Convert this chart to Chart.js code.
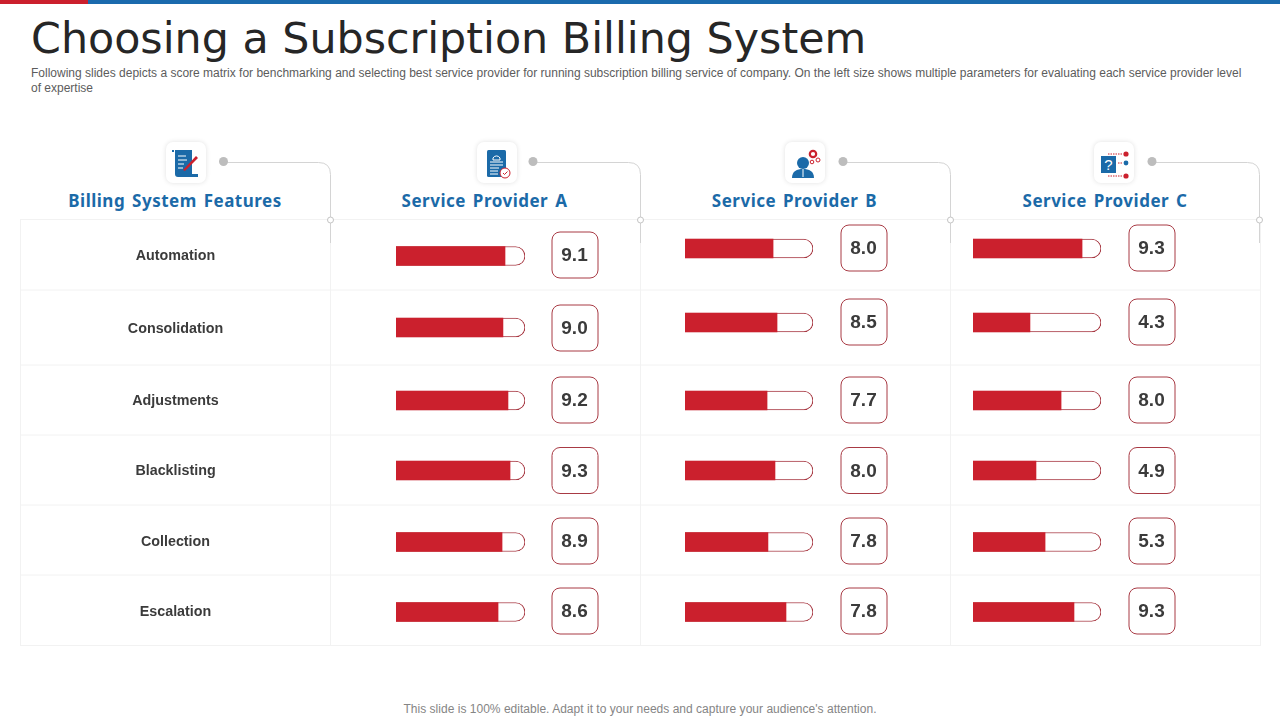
<!DOCTYPE html>
<html><head><meta charset="utf-8">
<script src="https://cdn.jsdelivr.net/npm/chart.js@4/dist/chart.umd.js"></script>
<style>
html,body{margin:0;padding:0;background:#fff;width:1280px;height:720px;overflow:hidden;font-family:"Liberation Sans",Arial,sans-serif}
.abs{position:absolute;white-space:nowrap}
canvas{position:absolute;left:0;top:0;pointer-events:none}
#title{left:31px;top:13px;font:42.8px "DejaVu Sans",sans-serif;color:#262626}
#sub{left:31px;top:66px;width:1215px;white-space:normal;font-size:12px;line-height:15px;color:#5c5c5c}
#foot{left:0;width:1280px;top:702px;text-align:center;font-size:12px;color:#858585;letter-spacing:.02px}
.head{top:189px;width:310px;text-align:center;font:bold 17px "Noto Sans",sans-serif;color:#1b6aa8;letter-spacing:.5px;word-spacing:2px}
.card{width:40px;height:41px;top:142px;background:#fff;border-radius:7px;box-shadow:0 0 5px rgba(0,0,0,.12)}
</style></head><body>
<svg id="frame" class="abs" style="left:0;top:0" width="1280" height="720" xmlns="http://www.w3.org/2000/svg"></svg>
<div id="title" class="abs">Choosing a Subscription Billing System</div>
<div id="sub" class="abs">Following slides depicts a score matrix for benchmarking and selecting best service provider for running subscription billing service of company. On the left size shows multiple parameters for evaluating each service provider level of expertise</div>
<div id="foot" class="abs">This slide is 100% editable. Adapt it to your needs and capture your audience's attention.</div>
<div id="heads"></div>
<canvas id="chartA" width="1280" height="720"></canvas>
<canvas id="chartB" width="1280" height="720"></canvas>
<canvas id="chartC" width="1280" height="720"></canvas>
<script>
// ---- data ----
const features = ["Automation","Consolidation","Adjustments","Blacklisting","Collection","Escalation"];
const columnTitles = ["Billing System Features","Service Provider A","Service Provider B","Service Provider C"];
const scoresA = ["9.1","9.0","9.2","9.3","8.9","8.6"];
const scoresB = ["8.0","8.5","7.7","8.0","7.8","7.8"];
const scoresC = ["9.3","4.3","8.0","4.9","5.3","9.3"];
// bar fill lengths as drawn in the picture, on a 0-10 track
const fillA = [8.45,8.29,8.68,8.84,8.22,7.91];
const fillB = [6.88,7.19,6.41,7.03,6.48,7.89];
const fillC = [8.52,4.45,6.88,4.92,5.63,7.89];
const trackFull = [10,10,10,10,10,10];

// ---- layout ----
const W=1280,H=720,RED="#cb202d",EDGE="#a83a44",INK="#3b3b3b";
const rowLines=[219.5,290,365,435,505,575,645.5], colLines=[20.5,330.5,640.5,950.5,1260.5];
const centersA=[256,327.5,400.5,470.5,542,612], centersBC=[248.5,322.5,400.5,470.5,542,612];
const boxNudgeA=[-1,0.5,-0.5,0,-1,-1], boxNudgeBC=[-0.5,-0.5,-0.5,0,-1,-1];
const cardX=[166,477,785,1094], dotX=[223.5,533,843,1152], cornerX=[330.5,640.5,950.5,1259.5], headC=[175,484.5,794.5,1105];

// ---- static frame ----
let s='<rect x="0" y="0" width="1280" height="4" fill="#1a6aad"/><rect x="0" y="0" width="88" height="4" fill="#cb202d"/>';
rowLines.forEach(y=>s+=`<line x1="20" x2="1261" y1="${y}" y2="${y}" stroke="#f2f2f2"/>`);
colLines.forEach(x=>s+=`<line x1="${x}" x2="${x}" y1="219" y2="646" stroke="#f2f2f2"/>`);
cornerX.forEach((x,i)=>{
  s+=`<path d="M${dotX[i]} 162.5H${x-12}Q${x} 162.5 ${x} 174.5V243" fill="none" stroke="#d4d4d4"/>`;
  s+=`<circle cx="${dotX[i]}" cy="161.5" r="4.5" fill="#bdbdbd"/>`;
  s+=`<circle cx="${x}" cy="220" r="3" fill="#fff" stroke="#c4c4c4"/>`;
});
document.getElementById('frame').innerHTML=s;

const B="#1b6aa8",R="#cb202d";
const icons=[
 `<path d="M9 8h17v24h6v3H12a3 3 0 0 1-3-3z" fill="${B}"/><path d="M12 14h8M12 18h9M12 22h6M12 26h5" stroke="#fff" stroke-width="1"/><path d="M17 28l13-14 2 2-13 13z" fill="${R}"/><rect x="6" y="8" width="2" height="2" fill="${B}"/>`,
 `<rect x="10" y="8" width="19" height="27" rx="1.5" fill="${B}"/><path d="M16 16a4 4 0 0 1 7 0v2h-7z" fill="none" stroke="#fff"/><path d="M13 20h13M13 23h13M13 26h9M13 29h8M13 32h8" stroke="#fff"/><circle cx="28" cy="31" r="5" fill="#fff" stroke="${R}"/><path d="M26 31l1.5 1.5 3-3" stroke="${R}" fill="none"/>`,
 `<circle cx="18" cy="21" r="6" fill="${B}"/><path d="M7 36c0-7 5-9 11-9s11 2 11 9z" fill="${B}"/><path d="M18 27v8" stroke="#fff"/><circle cx="28" cy="12" r="3.2" fill="none" stroke="${R}" stroke-width="2.2"/><circle cx="33" cy="18" r="2" fill="none" stroke="${R}"/><circle cx="27" cy="20" r="1.8" fill="none" stroke="${R}"/>`,
 `<rect x="7" y="14" width="15" height="17" fill="${B}"/><text x="14.5" y="28" font-family="Liberation Sans" font-size="15" fill="#fff" text-anchor="middle">?</text><circle cx="32" cy="12" r="2.6" fill="${R}"/><circle cx="32" cy="21" r="2.4" fill="${B}"/><circle cx="32" cy="34" r="2.6" fill="${R}"/><path d="M14 12h15M24 21h5M14 34h15" stroke="${R}" stroke-dasharray="1.5 1" fill="none"/>`
];
let hh='';
columnTitles.forEach((t,i)=>{
  hh+=`<div class="abs card" style="left:${cardX[i]}px"><svg width="40" height="41">${icons[i]}</svg></div>`;
  hh+=`<div class="abs head" style="left:${headC[i]-155}px">${t}</div>`;
});
document.getElementById('heads').innerHTML=hh;

// ---- category scale whose rows follow the slightly uneven table rows ----
class RowScale extends Chart.CategoryScale{
  getPixelForValue(v){
    const i=typeof v==='number'?v:this.parse(v);
    return this.options.rowCenters[i];
  }
}
RowScale.id='rowScale';
RowScale.defaults=Chart.CategoryScale.defaults;
Chart.register(RowScale);

const scorePlugin={
  id:'scoreBoxes',
  afterDatasetsDraw(c,_,o){
    const ctx=c.ctx,y=c.scales.y;
    ctx.save();
    o.scores.forEach((t,i)=>{
      const py=y.getPixelForValue(i)+o.nudge[i];
      ctx.beginPath();ctx.roundRect(o.boxX-23,py-23,46,46,8);
      ctx.fillStyle='#fff';ctx.fill();ctx.strokeStyle=EDGE;ctx.lineWidth=1;ctx.stroke();
      ctx.fillStyle=INK;ctx.font='bold 19px "Liberation Sans"';ctx.textAlign='center';ctx.textBaseline='middle';
      ctx.fillText(t,o.boxX-0.5,py+1);
      if(o.showFeatures){
        ctx.font='bold 14.3px "Liberation Sans"';
        ctx.fillText(features[i],175.5,py+1);
      }
    });
    ctx.restore();
  }
};

function makeChart(id,fill,scores,left,right,boxX,centers,nudge,showFeatures){
  return new Chart(document.getElementById(id),{
    type:'bar',
    data:{labels:features,datasets:[
      {label:'Score',data:fill,backgroundColor:RED,borderWidth:0,order:1,barThickness:19},
      {label:'Track',data:trackFull,backgroundColor:'#fff',borderColor:EDGE,borderWidth:1,borderSkipped:false,
       borderRadius:{topRight:9.5,bottomRight:9.5,topLeft:0,bottomLeft:0},order:2,barThickness:19}
    ]},
    options:{
      indexAxis:'y',responsive:false,animation:false,events:[],
      layout:{padding:{left:left,right:W-right,top:219,bottom:H-646}},
      datasets:{bar:{grouped:false}},
      scales:{
        x:{min:0,max:10,display:false},
        y:{type:'rowScale',display:false,rowCenters:centers}
      },
      plugins:{legend:{display:false},tooltip:{enabled:false},title:{display:false},
        scoreBoxes:{scores,boxX,showFeatures,nudge}}
    },
    plugins:[scorePlugin]
  });
}
makeChart('chartA',fillA,scoresA,396,525,575,centersA,boxNudgeA,true);
makeChart('chartB',fillB,scoresB,685,813,864,centersBC,boxNudgeBC,false);
makeChart('chartC',fillC,scoresC,973,1101,1152,centersBC,boxNudgeBC,false);
</script>
</body></html>
